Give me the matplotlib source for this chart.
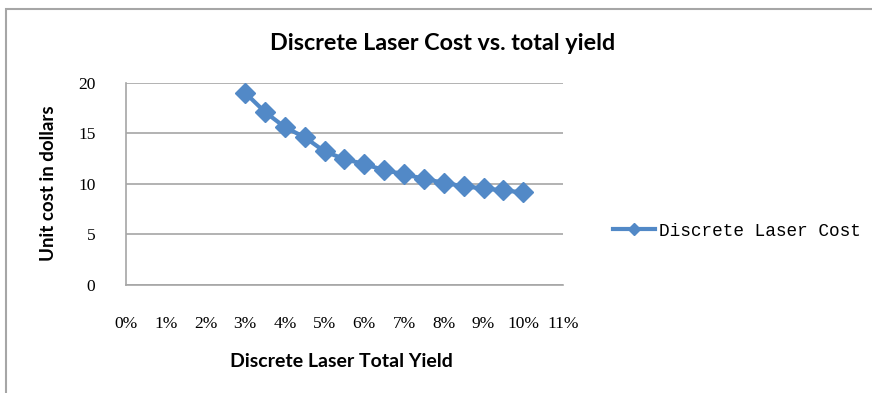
import matplotlib
matplotlib.use("Agg")
import matplotlib.pyplot as plt
from matplotlib.lines import Line2D
from matplotlib.patches import Rectangle
from matplotlib.ticker import FuncFormatter

# yield (%) and unit cost ($)
total_yield = [3.0, 3.5, 4.0, 4.5, 5.0, 5.5, 6.0, 6.5, 7.0, 7.5, 8.0, 8.5, 9.0, 9.5, 10.0]
unit_cost = [19.0, 17.1, 15.6, 14.6, 13.2, 12.45, 11.95, 11.35, 10.95, 10.5, 10.1, 9.75, 9.55, 9.35, 9.15]
y_ticks = [0, 5, 10, 15, 20]
x_ticks = list(range(0, 12))

blue = '#5289C7'
grid_gray = '#A6A6A6'

fig = plt.figure(figsize=(8.72, 3.93), dpi=100, facecolor='white')
ax = fig.add_axes([0.1445, 0.2748, 0.5011, 0.5148])

ax.plot(total_yield, unit_cost, color=blue, lw=3, marker='D', ms=10,
        markeredgecolor=blue, markerfacecolor=blue, solid_joinstyle='round')

ax.set_xlim(0, 11)
ax.set_ylim(0, 20)
ax.set_yticks(y_ticks)
ax.set_xticks(x_ticks)
ax.xaxis.set_major_formatter(FuncFormatter(lambda v, p: '%d%%' % v))
ax.yaxis.grid(True, color=grid_gray, lw=1.2)
ax.set_axisbelow(True)
for s in ['top', 'right']:
    ax.spines[s].set_visible(False)
for s in ['left', 'bottom']:
    ax.spines[s].set_color(grid_gray)
    ax.spines[s].set_linewidth(1.2)
ax.tick_params(length=0, labelsize=12.5, pad=22)
ax.tick_params(axis='y', pad=22)
for lab in ax.get_xticklabels() + ax.get_yticklabels():
    lab.set_fontfamily('Liberation Serif')

ax.set_xlabel('Discrete Laser Total Yield', fontfamily='Lato', fontweight='bold',
              fontsize=14, va='center')
ax.set_ylabel('Unit cost in dollars', fontfamily='Lato', fontweight='bold',
              fontsize=13.5, va='center')
ax.xaxis.set_label_coords(0.494, -0.38)
ax.yaxis.set_label_coords(-0.178, 0.504)
fig.text(0.508, 0.89, 'Discrete Laser Cost vs. total yield', ha='center', va='center',
         fontfamily='Lato', fontweight='bold', fontsize=16.8)

# legend entry
handle = Line2D([], [], color=blue, lw=3, marker='D', ms=6.5)
fig.legend([handle], ['Discrete Laser Cost'], loc='center left',
           bbox_to_anchor=(0.685, 0.412), frameon=False, handlelength=2.35,
           handletextpad=0.2, prop={'family': 'Liberation Mono', 'size': 12.8})

# outer chart frame
fig.patches.append(Rectangle((6 / 872, -0.1), 1.2, (393 - 8.5) / 393 + 0.1,
                             transform=fig.transFigure, fill=False,
                             edgecolor=grid_gray, lw=1.5))

fig.savefig('out.png', dpi=100)
